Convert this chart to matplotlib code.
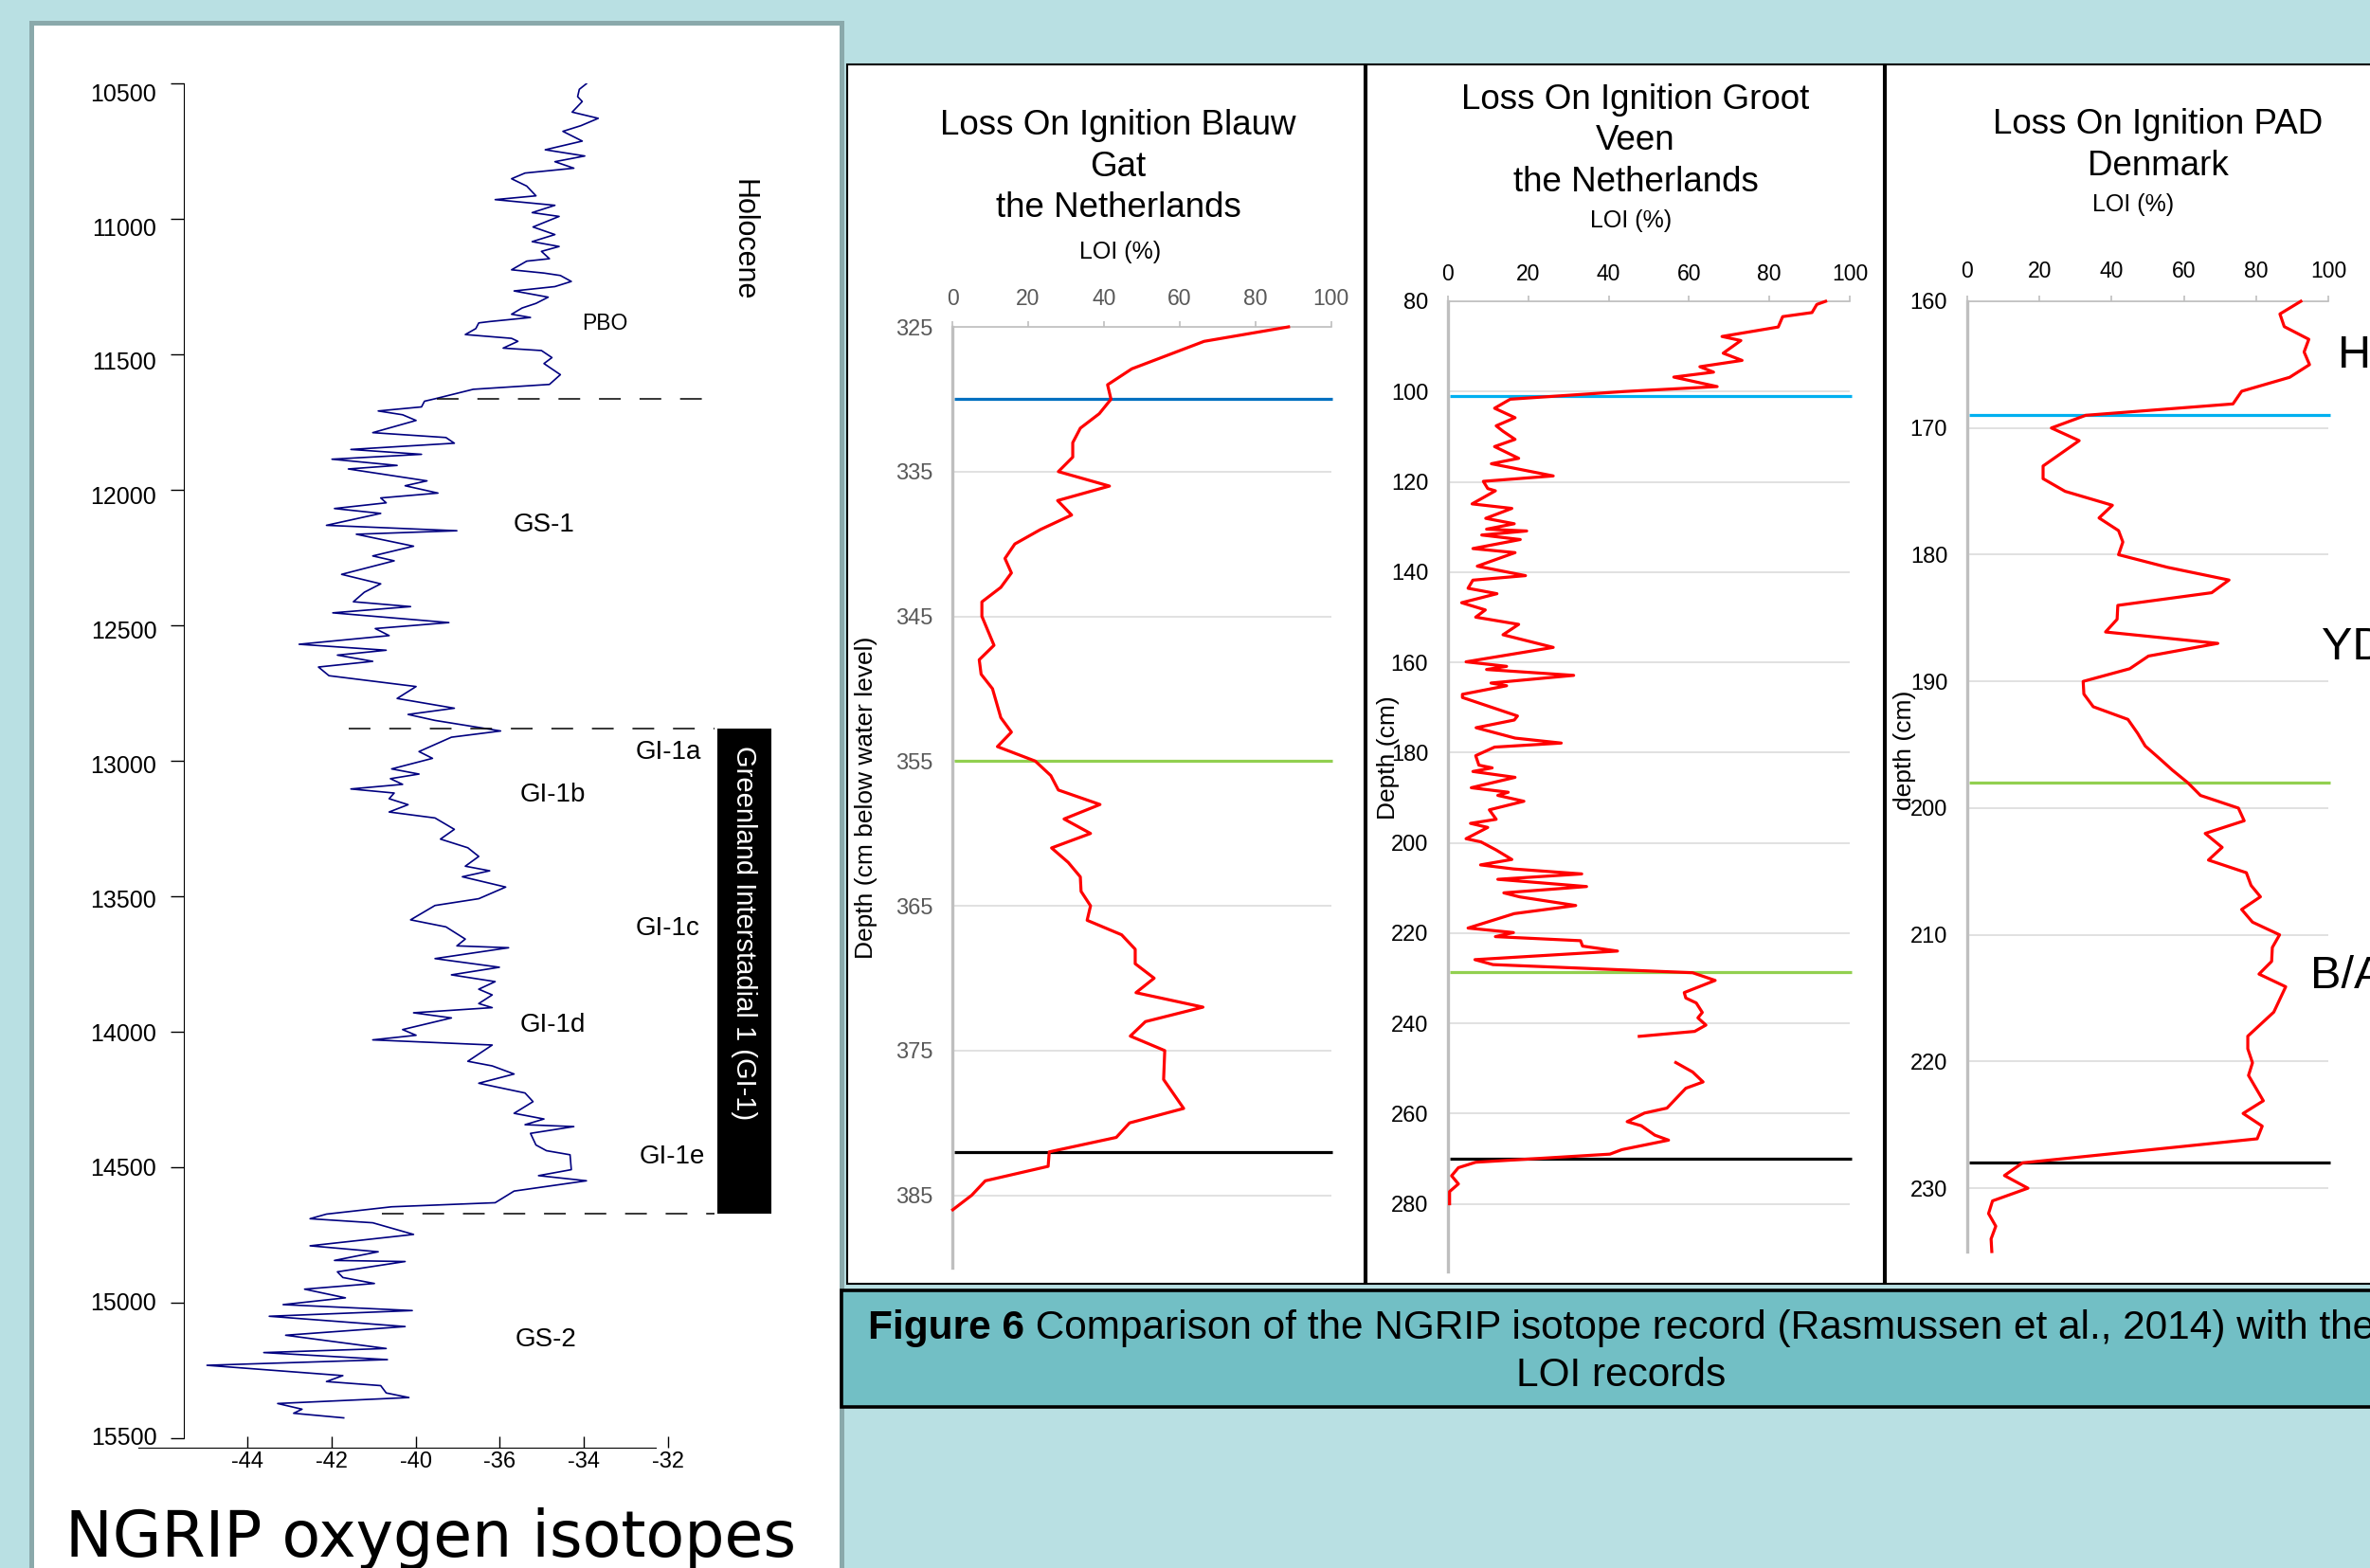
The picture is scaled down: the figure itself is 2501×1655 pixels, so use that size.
import matplotlib
matplotlib.use('Agg')
import matplotlib.pyplot as plt
import numpy as np
from matplotlib.patches import Rectangle
from matplotlib.transforms import ScaledTranslation

W, H = 2501, 1655
BG = '#b9e0e3'
SANS = 'Liberation Sans'

# ---------------- NGRIP oxygen isotope record (age b2k, d18O) ----------------
NGRIP_AGE = [10501, 10522, 10549, 10567, 10606, 10629, 10656, 10677, 10713, 10745,
             10768, 10789, 10813, 10831, 10852, 10879, 10915, 10929, 10950, 10977,
             10991, 11030, 11058, 11084, 11102, 11120, 11147, 11156, 11188, 11200,
             11209, 11231, 11250, 11266, 11289, 11312, 11329, 11352, 11364, 11379,
             11384, 11405, 11427, 11441, 11452, 11477, 11486, 11512, 11534, 11575,
             11611, 11629, 11664, 11673, 11694, 11709, 11723, 11744, 11789, 11807,
             11828, 11851, 11869, 11887, 11910, 11923, 11967, 11985, 12012, 12030,
             12048, 12069, 12087, 12131, 12151, 12164, 12208, 12244, 12262, 12312,
             12347, 12378, 12413, 12431, 12454, 12490, 12512, 12538, 12570, 12592,
             12610, 12633, 12654, 12686, 12726, 12770, 12806, 12829, 12851, 12890,
             12913, 12966, 12991, 13030, 13049, 13066, 13087, 13104, 13119, 13140,
             13162, 13189, 13211, 13253, 13289, 13321, 13353, 13389, 13406, 13428,
             13466, 13509, 13534, 13587, 13613, 13658, 13683, 13690, 13730, 13762,
             13790, 13815, 13843, 13864, 13896, 13911, 13930, 13949, 13992, 14013,
             14030, 14049, 14109, 14126, 14156, 14190, 14226, 14258, 14301, 14322,
             14343, 14350, 14375, 14418, 14439, 14454, 14509, 14531, 14550, 14588,
             14631, 14646, 14673, 14690, 14705, 14748, 14790, 14812, 14844, 14848,
             14886, 14907, 14929, 14950, 14982, 15007, 15029, 15050, 15088, 15120,
             15169, 15184, 15210, 15231, 15269, 15291, 15306, 15333, 15350, 15372,
             15393, 15408, 15425]
NGRIP_D18O = [-35.94, -36.11, -36.15, -36.04, -36.28, -35.66, -36.07, -36.50, -36.04, -36.92,
              -35.98, -36.69, -36.24, -37.40, -37.72, -37.36, -37.14, -38.11, -36.69, -37.23,
              -36.59, -37.21, -36.69, -37.23, -36.59, -37.01, -36.82, -37.36, -37.72, -36.95,
              -36.56, -36.30, -36.69, -37.66, -36.85, -37.14, -37.47, -37.72, -37.27, -38.24,
              -38.50, -38.57, -38.82, -37.72, -37.57, -37.92, -37.01, -36.76, -36.95, -36.56,
              -36.82, -38.63, -39.54, -39.79, -39.86, -40.89, -40.31, -39.99, -41.02, -39.28,
              -39.08, -41.54, -39.86, -41.99, -40.44, -41.60, -39.73, -40.25, -39.47, -40.83,
              -40.70, -41.93, -40.83, -42.12, -39.02, -41.41, -40.05, -41.02, -40.51, -41.76,
              -40.83, -41.22, -41.48, -40.12, -41.97, -39.21, -40.96, -40.63, -42.77, -40.70,
              -41.86, -41.02, -42.31, -42.06, -39.99, -40.44, -39.08, -40.18, -39.54, -37.98,
              -39.15, -39.92, -39.60, -40.57, -39.92, -40.60, -40.31, -41.54, -40.51, -40.63,
              -40.18, -40.63, -39.54, -39.08, -39.41, -38.76, -38.50, -38.82, -38.24, -38.89,
              -37.86, -38.50, -39.54, -40.12, -39.28, -38.82, -39.02, -37.79, -39.54, -38.01,
              -39.15, -38.11, -38.50, -38.18, -38.50, -38.18, -40.05, -39.15, -40.31, -39.99,
              -41.02, -38.18, -38.76, -38.18, -37.66, -38.50, -37.40, -37.21, -37.66, -36.95,
              -37.40, -36.24, -37.27, -37.14, -36.89, -36.33, -36.30, -37.08, -35.94, -37.66,
              -38.11, -40.57, -42.12, -42.51, -41.02, -40.05, -42.51, -40.89, -41.93, -40.25,
              -41.86, -41.73, -40.98, -42.64, -41.67, -43.15, -40.08, -43.48, -40.25, -43.09,
              -40.70, -43.61, -40.67, -44.96, -41.73, -42.12, -40.83, -40.70, -40.16, -43.28,
              -42.70, -42.90, -41.71]
NGRIP_YTICKS = [10500, 11000, 11500, 12000, 12500, 13000, 13500, 14000, 14500, 15000, 15500]
NGRIP_XTICKS = [-44, -42, -40, -38, -36, -34]
NGRIP_XTICKLABELS = ['-44', '-42', '-40', '-36', '-34', '-32']
BOUNDARY_AGE = [11665, 12880, 14672]
BOUNDARY_X0 = [-39.5, -41.6, -40.8]
BOUNDARY_X1 = -32.9
PERIOD_LABELS = ['PBO', 'GS-1', 'GI-1a', 'GI-1b', 'GI-1c', 'GI-1d', 'GI-1e', 'GS-2']
PERIOD_X = [-35.5, -36.95, -34.0, -36.73, -34.0, -36.73, -33.9, -36.9]
PERIOD_AGE = [11388, 12129, 12969, 13126, 13619, 13976, 14462, 15136]
PERIOD_SIZE = [16.5, 20, 20, 20, 20, 20, 20, 20]

# ---------------- LOI Blauw Gat ----------------
BG_DEPTH = [325, 326, 327.9, 329, 330, 331, 332, 333, 334, 335, 336, 337, 338, 339, 340,
            341, 342, 343, 344, 345, 347, 348, 349, 350, 352, 353, 354, 355, 356, 357,
            358, 359, 360, 361, 362, 363, 364, 365, 366, 367, 368, 369, 370, 371, 372,
            373, 374, 375, 377, 379, 380, 381, 382, 383, 384, 385, 386]
BG_LOI = [88.8, 66.5, 47.4, 41.0, 41.9, 38.8, 33.8, 31.8, 31.8, 28.0, 41.5, 27.8, 31.5, 23.3, 16.5,
          13.9, 15.6, 12.8, 7.8, 7.8, 11.0, 7.1, 7.6, 10.6, 12.8, 15.6, 11.9, 21.9, 26.0, 28.0,
          39.0, 29.5, 36.5, 26.2, 30.6, 33.8, 34.0, 36.5, 35.6, 44.7, 48.3, 48.3, 53.3, 48.5, 66.2,
          51.0, 47.0, 56.1, 55.8, 61.1, 46.8, 43.3, 25.6, 25.3, 8.7, 5.1, 0.1]
BG_MARK_DEPTH = [330, 355, 382]
BG_MARK_COLOR = ['#0070c0', '#92d050', '#000000']

# ---------------- LOI Groot Veen ----------------
GV_DEPTH = [80, 80.7, 82.5, 83.4, 85.7, 87.8, 88.7, 91.5, 93.1, 94.5, 95.7, 96.8, 98.9, 100.0,
            101.7, 103.7, 105.8, 107.6, 108.8, 110.6, 112.2, 114.8, 116.0, 118.7, 119.9, 121.5,
            122.0, 124.9, 125.9, 128.1, 129.3, 130.5, 130.9, 131.8, 132.8, 134.8, 135.7, 138.7,
            140.8, 141.8, 143.6, 144.8, 146.8, 148.4, 150.0, 151.6, 153.9, 156.7, 159.9, 160.9,
            161.6, 162.9, 164.6, 165.2, 167.1, 167.8, 171.9, 172.8, 174.5, 176.8, 177.9, 178.8,
            180.7, 182.8, 183.4, 184.2, 185.5, 187.8, 188.8, 189.5, 190.8, 192.7, 194.8, 195.7,
            196.6, 199.1, 199.8, 201.6, 203.7, 204.9, 205.8, 206.9, 208.1, 209.7, 211.1, 212.0,
            213.9, 215.7, 218.9, 219.9, 220.8, 221.7, 222.9, 224.0, 225.9, 227.0, 228.8, 230.5,
            233.2, 234.4, 235.5, 237.6, 238.8, 240.4, 241.8, 242.9, np.nan, 248.7, 250.8, 253.0,
            254.4, 258.8, 259.9, 261.8, 262.7, 264.8, 265.9, 268.0, 269.0, 270.8, 272.0, 273.8,
            275.6, 277.3, 280.0]
GV_LOI = [94.0, 91.8, 90.6, 83.3, 82.2, 68.2, 72.9, 68.5, 73.2, 62.7, 66.1, 56.2, 67.0, 43.8,
          15.5, 11.6, 16.7, 12.0, 13.7, 16.7, 11.6, 17.6, 10.8, 26.2, 8.8, 9.9,
          11.8, 6.0, 15.9, 9.4, 16.5, 9.6, 19.6, 8.4, 18.0, 6.2, 16.7, 7.3,
          19.3, 6.2, 5.0, 12.2, 3.4, 9.3, 6.9, 17.6, 13.7, 26.2, 4.5, 14.6,
          9.6, 31.3, 10.7, 14.6, 3.6, 3.6, 17.3, 16.5, 7.0, 16.7, 28.2, 11.6,
          6.9, 7.7, 11.0, 6.2, 16.7, 5.8, 15.0, 12.4, 18.9, 10.3, 12.0, 5.6,
          9.9, 4.5, 8.2, 12.0, 15.9, 8.1, 16.3, 33.3, 12.4, 34.5, 13.9, 17.9,
          31.8, 16.5, 5.0, 16.3, 11.8, 33.0, 33.5, 42.2, 6.7, 11.2, 60.9, 66.5,
          58.8, 59.2, 61.8, 63.3, 62.2, 64.2, 61.4, 47.6, np.nan, 56.7, 60.9, 63.5,
          59.2, 54.5, 48.9, 44.6, 48.1, 51.5, 54.9, 43.3, 40.3, 6.9, 2.6, 0.9,
          2.6, 0.4, 0.4]
GV_MARK_DEPTH = [101, 228.7, 270]
GV_MARK_COLOR = ['#00b0f0', '#92d050', '#000000']

# ---------------- LOI PAD Denmark ----------------
PAD_DEPTH = [160.0, 161.0, 162.0, 163.0, 164.0, 165.0, 166.0, 167.1, 168.1, 169.0, 170.0,
             171.0, 173.0, 174.0, 175.0, 176.1, 177.1, 178.1, 179.0, 180.0, 181.0, 182.0,
             183.0, 184.0, 185.1, 186.1, 187.0, 188.0, 189.0, 190.0, 191.0, 192.0, 193.0,
             194.1, 195.1, 196.1, 197.0, 198.0, 199.0, 200.0, 201.0, 202.0, 203.1, 204.1,
             205.1, 206.1, 207.0, 208.0, 209.0, 210.0, 211.0, 212.1, 213.1, 214.1, 216.1,
             218.0, 219.0, 220.1, 221.1, 223.1, 224.1, 225.1, 226.1, 228.0, 229.0, 230.0,
             231.0, 232.0, 233.0, 234.0, 235.0]
PAD_LOI = [92.4, 86.6, 87.8, 94.6, 93.3, 94.8, 89.3, 76.0, 73.6, 32.8, 23.3,
           31.0, 21.0, 21.0, 27.1, 40.2, 36.5, 41.9, 43.1, 41.9, 55.5, 72.5,
           67.7, 41.7, 41.5, 38.3, 69.4, 50.2, 45.0, 32.1, 32.3, 34.9, 44.5,
           47.2, 49.3, 53.3, 56.8, 61.1, 64.6, 75.1, 76.7, 65.9, 70.6, 66.8,
           77.3, 78.6, 81.2, 76.0, 79.0, 86.5, 84.5, 84.3, 80.8, 88.2, 84.9,
           77.7, 77.7, 79.0, 77.9, 82.0, 76.4, 81.7, 80.3, 15.3, 10.3, 16.8,
           7.0, 5.9, 7.9, 6.6, 6.8]
PAD_MARK_DEPTH = [169, 198, 228]
PAD_MARK_COLOR = ['#00b0f0', '#92d050', '#000000']
PAD_ZONES = ['H', 'YD', 'B/A']
PAD_ZONE_X = [102.6, 98.2, 95.0]
PAD_ZONE_DEPTH = [164.3, 187.3, 213.3]


def fx(x):
    return x / W


def fy(y):
    return 1 - y / H


def frac_rect(x0, y0, x1, y1):
    return [x0 / W, 1 - y1 / H, (x1 - x0) / W, (y1 - y0) / H]


def add_box(fig, x0, y0, x1, y1, face, edge, lw, z):
    fig.add_artist(Rectangle((fx(x0), fy(y1)), (x1 - x0) / W, (y1 - y0) / H,
                             transform=fig.transFigure, facecolor=face, edgecolor=edge,
                             linewidth=lw, zorder=z, clip_on=False))


def plot_loi(fig, rect, depth, loi, ylim, yticks, marks, colors, tick_color, xpad):
    ax = fig.add_axes(frac_rect(*rect))
    ax.set_facecolor('none')
    ax.set_xlim(0, 100)
    ax.set_ylim(ylim[1], ylim[0])
    ax.xaxis.tick_top()
    ax.set_xticks([0, 20, 40, 60, 80, 100])
    ax.set_yticks(yticks)
    for s in ['right', 'bottom']:
        ax.spines[s].set_visible(False)
    ax.spines['left'].set_color('#bfbfbf')
    ax.spines['left'].set_linewidth(2.4)
    ax.spines['top'].set_color('#bfbfbf')
    ax.spines['top'].set_linewidth(1.2)
    ax.tick_params(axis='x', direction='out', length=4, width=1.2, color='#bfbfbf',
                   labelsize=16.5, labelcolor=tick_color, pad=xpad)
    ax.tick_params(axis='y', length=0, labelsize=17, labelcolor=tick_color, pad=15)
    for lbl in ax.get_xticklabels() + ax.get_yticklabels():
        lbl.set_fontfamily(SANS)
    ax.yaxis.grid(True, color='#d9d9d9', linewidth=1.1)
    ax.set_axisbelow(True)
    ax.hlines(marks, 0.4, 100.4, colors=colors, linewidth=2.3, zorder=2, clip_on=False)
    ax.plot(loi, depth, color='#ff0000', linewidth=2.3, zorder=3, clip_on=False)
    return ax


fig = plt.figure(figsize=(W / 100, H / 100), dpi=100)
fig.patch.set_facecolor(BG)

# panels
add_box(fig, 32.5, 23.5, 887.5, 1720, 'white', '#8aa9ab', 3.6, -3)
add_box(fig, 894, 68, 1440, 1355, 'white', 'black', 1.5, -2)
add_box(fig, 1441.5, 68, 1988, 1355, 'white', 'black', 1.5, -2)
add_box(fig, 1990, 68, 2560, 1355, 'white', 'black', 1.5, -2)
add_box(fig, 887.5, 1362, 2560, 1485, '#72bfc5', 'black', 2.6, -1)

# ---------------- NGRIP panel ----------------
ax = fig.add_axes(frac_rect(145.6, 88, 838.2, 1528))
ax.set_facecolor('none')
ax.set_xlim(-46.6, -31.0)
ax.set_ylim(15535, 10500)
ax.plot(NGRIP_D18O, NGRIP_AGE, color='#000080', linewidth=1.2)
for s in ['top', 'right']:
    ax.spines[s].set_visible(False)
ax.spines['left'].set_position(('data', -45.5))
ax.spines['left'].set_bounds(10500, 15500)
ax.spines['bottom'].set_bounds(-46.6, -34.3)
ax.set_yticks(NGRIP_YTICKS)
ax.set_yticklabels([str(v) for v in NGRIP_YTICKS])
ax.set_xticks(NGRIP_XTICKS)
ax.set_xticklabels(NGRIP_XTICKLABELS)
ax.tick_params(axis='y', direction='out', length=10, width=1, labelsize=18, pad=11)
ax.tick_params(axis='x', direction='in', length=9, width=1, labelsize=17, pad=3)
# labels sit a little below their ticks at the top, on them at the bottom
for i, lbl in enumerate(ax.get_yticklabels()):
    off = (9.3 - 1.2 * i) * 0.72 / 72
    lbl.set_transform(lbl.get_transform() + ScaledTranslation(0, -off, fig.dpi_scale_trans))
for lbl in ax.get_xticklabels() + ax.get_yticklabels():
    lbl.set_fontfamily(SANS)
ax.hlines(BOUNDARY_AGE, BOUNDARY_X0, BOUNDARY_X1, colors='black', linewidth=1.1,
          linestyles=(0, (15, 13)), clip_on=False)
for name, x, y, size in zip(PERIOD_LABELS, PERIOD_X, PERIOD_AGE, PERIOD_SIZE):
    ax.text(x, y, name, ha='center', va='center', fontsize=size, family=SANS)
ax.text(-32.22, 11077, 'Holocene', rotation=270, ha='center', va='center',
        fontsize=22, family=SANS)
ax.add_patch(Rectangle((-32.83, BOUNDARY_AGE[1]), 1.28, BOUNDARY_AGE[2] - BOUNDARY_AGE[1],
                       facecolor='black', edgecolor='none', clip_on=False))
ax.text(-32.19, 13636, 'Greenland Interstadial 1 (GI-1)', rotation=270, color='white',
        ha='center', va='center', fontsize=21, family=SANS)
fig.text(fx(455), fy(1643), 'NGRIP oxygen isotopes', ha='center', va='baseline',
         fontsize=48, family='DejaVu Sans')

# ---------------- LOI charts ----------------
ax1 = plot_loi(fig, (1005, 345, 1404.5, 1338), BG_DEPTH, BG_LOI, (325, 390),
               np.arange(325, 390, 10), BG_MARK_DEPTH, BG_MARK_COLOR, '#595959', 9)
ax1.set_ylabel('Depth (cm below water level)', fontsize=19, family=SANS)
ax1.yaxis.set_label_coords(-0.198, 0.5)
fig.text(fx(1180), fy(176), 'Loss On Ignition Blauw\nGat\nthe Netherlands', ha='center',
         va='center', fontsize=26.5, family=SANS, linespacing=1.3)
fig.text(fx(1182), fy(266), 'LOI (%)', ha='center', va='center', fontsize=18, family=SANS)

ax2 = plot_loi(fig, (1528, 318, 1952, 1342), GV_DEPTH, GV_LOI, (80, 295),
               np.arange(80, 281, 20), GV_MARK_DEPTH, GV_MARK_COLOR, '#000000', 8.5)
ax2.set_ylabel('Depth (cm)', fontsize=19, family=SANS)
ax2.yaxis.set_label_coords(-0.12, 0.53)
fig.text(fx(1726), fy(149), 'Loss On Ignition Groot\nVeen\nthe Netherlands', ha='center',
         va='center', fontsize=26.5, family=SANS, linespacing=1.3)
fig.text(fx(1721), fy(233), 'LOI (%)', ha='center', va='center', fontsize=18, family=SANS)

ax3 = plot_loi(fig, (2076, 318, 2457, 1321), PAD_DEPTH, PAD_LOI, (160, 235),
               np.arange(160, 231, 10), PAD_MARK_DEPTH, PAD_MARK_COLOR, '#000000', 10.5)
ax3.set_ylabel('depth (cm)', fontsize=19, family=SANS)
ax3.yaxis.set_label_coords(-0.142, 0.528)
fig.text(fx(2277), fy(153.5), 'Loss On Ignition PAD\nDenmark', ha='center',
         va='center', fontsize=26.5, family=SANS, linespacing=1.3)
fig.text(fx(2251), fy(216), 'LOI (%)', ha='center', va='center', fontsize=18, family=SANS)
for name, x, y in zip(PAD_ZONES, PAD_ZONE_X, PAD_ZONE_DEPTH):
    ax3.text(x, y, name, ha='left', va='center', fontsize=35, family=SANS, clip_on=False)

# ---------------- caption ----------------
renderer = fig.canvas.get_renderer()
cap_bold = fig.text(0, fy(1413), 'Figure 6', fontsize=30.5, fontweight='bold', family=SANS,
                    va='baseline')
cap_rest = fig.text(0, fy(1413), ' Comparison of the NGRIP isotope record (Rasmussen et al., 2014) with the',
                    fontsize=30.5, family=SANS, va='baseline')
w_bold = cap_bold.get_window_extent(renderer).width
w_rest = cap_rest.get_window_extent(renderer).width
x_start = 1711 - (w_bold + w_rest) / 2
cap_bold.set_x(fx(x_start))
cap_rest.set_x(fx(x_start + w_bold))
fig.text(fx(1711), fy(1463), 'LOI records', ha='center', va='baseline', fontsize=30.5, family=SANS)

fig.savefig('out.png', dpi=100, facecolor=BG)
